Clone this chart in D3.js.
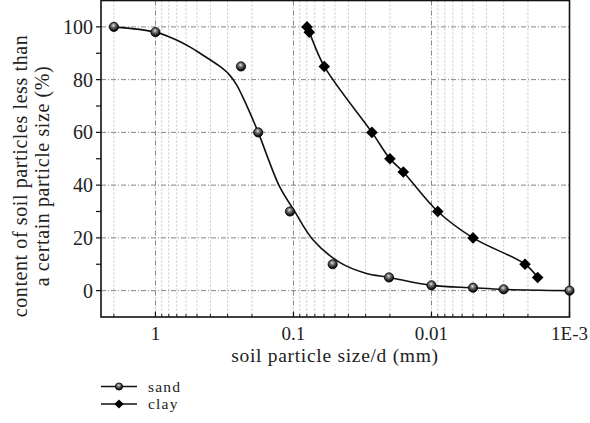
<!DOCTYPE html>
<html><head><meta charset="utf-8">
<script src="https://cdn.jsdelivr.net/npm/d3@7"></script>
<style>body{margin:0;background:#fff}svg{display:block}</style>
</head><body><svg id="c" width="590" height="423" font-family="Liberation Serif, 'Times New Roman', 'DejaVu Serif', serif"></svg>
<script>
// particle size (mm)
const sandSize = [2, 1, 0.24, 0.18, 0.106, 0.052, 0.0203, 0.01, 0.005, 0.003, 0.001];
const sandPct  = [100, 98, 85, 60, 30, 10, 5, 2, 1.1, 0.5, 0];
const clayS    = [0.0798, 0.0768, 0.0598, 0.027, 0.02, 0.016, 0.009, 0.005, 0.0021, 0.0017];
const clayPct  = [100, 98, 85, 60, 50, 45, 30, 20, 10, 5];
// fitted sand curve
const sandFitSize = [2, 1, 0.723, 0.564, 0.476, 0.341, 0.293, 0.258, 0.236, 0.207, 0.18, 0.126, 0.1, 0.072, 0.046, 0.03, 0.0203, 0.01, 0.005, 0.003, 0.001];
const sandFitPct  = [100, 98, 95.3, 92.4, 90, 85, 82, 78, 74, 67.5, 60, 39.4, 30.8, 19.2, 10.6, 6.6, 5, 2, 1.1, 0.5, 0];
const xTickVals = [1, 0.1, 0.01, 0.001];
const xTickLabels = ["1", "0.1", "0.01", "1E-3"];
const yTicks = [0, 20, 40, 60, 80, 100];
const yMinor = [10, 30, 50, 70, 90];
const seriesNames = ["sand", "clay"];

const svg = d3.select("#c");
const TXT = "#222";
const L = 101, R = 569.5, T = 0.5, B = 317;
const x = d3.scaleLog().domain([2.48, 0.001]).range([L, R]);
const y = d3.scaleLinear().domain([-10, 110]).range([B, T]);

const defs = svg.append("defs");
const g = defs.append("radialGradient").attr("id","ball").attr("cx","0.45").attr("cy","0.35").attr("r","0.6");
g.append("stop").attr("offset","0").attr("stop-color","#e8e8e8");
g.append("stop").attr("offset","0.35").attr("stop-color","#777");
g.append("stop").attr("offset","1").attr("stop-color","#000");

// minor vertical grid
const minorX = [];
[1, 0.1, 0.01, 0.001].forEach(d => { for (let k = 2; k <= 9; k++) { const v = d * k; if (v <= 2.48 && v > 0.001 && v !== 1 && v!==0.1 && v!==0.01) minorX.push(v); } });
svg.append("g").selectAll("line").data(minorX).join("line")
  .attr("x1", d => x(d)).attr("x2", d => x(d)).attr("y1", T).attr("y2", B)
  .attr("stroke", "#c4c4c4").attr("stroke-width", 1).attr("stroke-dasharray", "2,2");
// major vertical grid
svg.append("g").selectAll("line").data([1, 0.1, 0.01]).join("line")
  .attr("x1", d => x(d)).attr("x2", d => x(d)).attr("y1", T).attr("y2", B)
  .attr("stroke", "#858585").attr("stroke-width", 1).attr("stroke-dasharray", "5,2,1,2");
// major horizontal grid
svg.append("g").selectAll("line").data(yTicks).join("line")
  .attr("x1", L).attr("x2", R).attr("y1", d => y(d)).attr("y2", d => y(d))
  .attr("stroke", "#858585").attr("stroke-width", 1).attr("stroke-dasharray", "5,2,1,2");

// frame
svg.append("rect").attr("x", L).attr("y", T).attr("width", R - L).attr("height", B - T)
  .attr("fill", "none").attr("stroke", "#111").attr("stroke-width", 1.6);

// y ticks (outward)
svg.append("g").selectAll("line").data(yTicks.concat(yMinor)).join("line")
  .attr("x1", L - 5).attr("x2", L).attr("y1", d => y(d)).attr("y2", d => y(d))
  .attr("stroke", "#111").attr("stroke-width", 1.2);
svg.append("g").selectAll("text").data(yTicks).join("text")
  .attr("x", L - 8).attr("y", d => y(d)).attr("dy", "0.35em").attr("text-anchor", "end")
  .attr("font-size", 20).attr("fill", TXT).text(d => d);
// x ticks (inward)
svg.append("g").selectAll("line").data(xTickVals).join("line")
  .attr("x1", d => x(d)).attr("x2", d => x(d)).attr("y1", B).attr("y2", B - 5)
  .attr("stroke", "#111").attr("stroke-width", 1.2);
svg.append("g").selectAll("line").data(minorX).join("line")
  .attr("x1", d => x(d)).attr("x2", d => x(d)).attr("y1", B).attr("y2", B - 3)
  .attr("stroke", "#111").attr("stroke-width", 1);
svg.append("g").selectAll("text").data(xTickVals).join("text")
  .attr("x", d => x(d)).attr("y", 340).attr("text-anchor", "middle")
  .attr("font-size", 19).attr("fill", TXT).text((d, i) => xTickLabels[i]);

// titles
svg.append("text").attr("x", 335).attr("y", 362).attr("text-anchor", "middle")
  .attr("font-size", 19.5).attr("letter-spacing", 0.7).attr("fill", TXT).text("soil particle size/d (mm)");
const yt = svg.append("text").attr("transform", "translate(0,176) rotate(-90)").attr("text-anchor", "middle")
  .attr("font-size", 20).attr("letter-spacing", 0.6).attr("fill", TXT);
yt.append("tspan").attr("x", 0).attr("y", 27).text("content of soil particles less than");
yt.append("tspan").attr("x", 0).attr("y", 49).text("a certain particle size (%)");

// curves
const sandFit = sandFitSize.map((s, i) => [x(s), y(sandFitPct[i])]);
const clayPts = clayS.map((s, i) => [x(s), y(clayPct[i])]);
svg.append("path").attr("d", d3.line().curve(d3.curveCatmullRom.alpha(0.5))(sandFit))
  .attr("fill", "none").attr("stroke", "#111").attr("stroke-width", 1.6);
svg.append("path").attr("d", d3.line().curve(d3.curveCatmullRom.alpha(0.5))(clayPts))
  .attr("fill", "none").attr("stroke", "#111").attr("stroke-width", 1.6);

// markers
const sandData = sandSize.map((s, i) => [s, sandPct[i]]);
svg.append("g").selectAll("circle").data(sandData).join("circle")
  .attr("cx", d => x(d[0])).attr("cy", d => y(d[1])).attr("r", 4.6)
  .attr("fill", "url(#ball)").attr("stroke", "#000").attr("stroke-width", 0.8);
const clayData = clayS.map((s, i) => [s, clayPct[i]]);
const diamond = r => `M0,${-r}L${r},0L0,${r}L${-r},0Z`;
svg.append("g").selectAll("path").data(clayData).join("path")
  .attr("transform", d => `translate(${x(d[0])},${y(d[1])})`)
  .attr("d", diamond(5.8)).attr("fill", "#000");

// legend
const lg = svg.append("g");
seriesNames.forEach((n, i) => {
  const ly = 386.5 + i * 17.5;
  lg.append("line").attr("x1", 101).attr("x2", 137).attr("y1", ly).attr("y2", ly).attr("stroke", "#111").attr("stroke-width", 1.4);
  if (i === 0) lg.append("circle").attr("cx", 119).attr("cy", ly).attr("r", 3.6).attr("fill", "url(#ball)").attr("stroke", "#000").attr("stroke-width", 0.8);
  else lg.append("path").attr("transform", `translate(119,${ly})`).attr("d", diamond(4.6)).attr("fill", "#000");
  lg.append("text").attr("x", 148).attr("y", ly + 5).attr("font-size", 15.5).attr("letter-spacing", 1.2).attr("fill", TXT).text(n);
});
</script></body></html>
